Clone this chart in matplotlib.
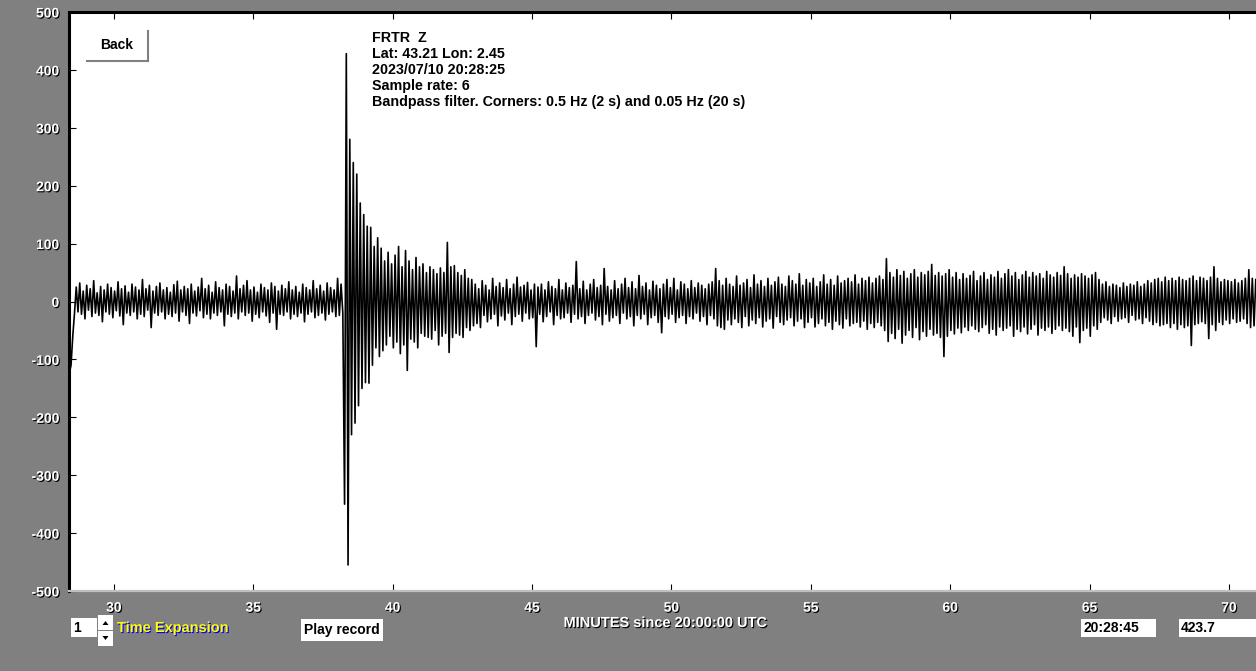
import numpy as np
import matplotlib.pyplot as plt
import matplotlib.patheffects as pe
from matplotlib.patches import Rectangle, Polygon

plt.rcParams['axes.unicode_minus'] = False

# trace: alternating peak values (counts), one every 0.0625 min
t_start = 28.4
t_step = 0.0625
counts = [
    # pre-event noise
    -125, -110, -60, -20,
    25, -18, 32, -22, 18, -30, 28, -15, 22, -26, 36, -20, 15, -24, 26, -35, 20, -18, 30, -22,
    24, -28, 18, -16, 34, -25, 22, -40, 27, -20, 16, -24, 30, -18, 25, -30, 20, -22, 38, -26,
    22, -15, 28, -45, 18, -20, 26, -24, 32, -18, 20, -30, 24, -22, 16, -26, 29, -20, 35, -34,
    20, -18, 26, -24, 22, -38, 30, -20, 18, -25, 25, -16, 40, -28, 22, -22, 28, -30, 16, -20,
    34, -24, 24, -18, 20, -42, 30, -22, 26, -26, 18, -20, 44, -30, 22, -18, 28, -24, 36, -20,
    20, -34, 25, -22, 16, -28, 30, -18, 24, -25, 20, -36, 32, -20, 26, -48, 18, -22, 28, -24,
    22, -18, 34, -30, 20, -22, 26, -26, 16, -20, 30, -35, 24, -22, 20, -18, 36, -28, 22, -24,
    28, -20, 18, -32, 32, -22, 24, -18, 20, -26, 40, -24, 30, -20,
    # event
    -350, 428, -455, 280, -230, 240, -210, 220, -180, 170, -150, 150, -140, 130,
    -141, 128, -110, 95, -80, 110, -95, 92, -85, 70, -75, 85, -60, 65, -80, 80,
    -70, 95, -90, 60, -75, 88, -119, 70, -65, 55, -70, 76, -80, 60, -55, 65,
    -60, 50, -62, 60, -65, 55, -50, 48, -75, 58, -60, 50, -55, 102, -88, 60,
    -62, 62, -55, 50, -58, 45, -62, 55, -45, 40, -50, 38, -42,
    # coda
    30, -38, 22, -45, 36, -24, 28, -35, 20, -30, 40, -22, 26, -42, 32, -25, 24, -32,
    38, -20, 22, -40, 30, -26, 42, -22, 25, -34, 28, -20, 33, -30, 20, -28, 30, -78, 25,
    -22, 30, -35, 20, -26, 34, -18, 26, -40, 22, -24, 38, -30, 20, -28, 32, -20, 24,
    -36, 28, -22, 69, -30, 22, -26, 35, -38, 20, -24, 30, -20, 38, -32, 24, -26, 28,
    -40, 57, -22, 26, -34, 20, -28, 36, -24, 22, -38, 30, -20, 40, -30, 24, -26, 34,
    -42, 22, -24, 45, -30, 26, -22, 32, -40, 20, -28, 35, -24, 28, -36, 22, -54, 30,
    -26, 38, -30, 24, -22, 40, -36, 20, -28, 34, -24, 30, -38, 22, -26, 36, -30, 24,
    -20, 32, -34, 28, -26, 22, -40, 30, -24, 34, -30, 57, -42, 36, -45, 28, -48, 40,
    -32, 30,
    # background 53-60 min
    -40, 26, -30, 44, -36, 28, -45, 32, -26, 38, -42, 24, -32, 46, -38, 30, -28, 36,
    -44, 26, -34, 40, -30, 28, -46, 34, -26, 42, -36, 30, -40, 26, -32, 44, -28, 36,
    -42, 30, -34, 48, -30, 28, -45, 38, -36, 32, -28, 40, -44, 26, -38, 34, -30, 46,
    -42, 30, -36, 38, -48, 28, -34, 44, -40, 32, -46, 36, -30, 40, -42, 34, -38, 46,
    -36, 30, -44, 40, -34, 36, -48, 42, -38, 32, -45, 40, -36, 44,
    -42, 38, -50, 74, -69, 50, -55, 42, -64, 55, -48, 45, -72, 52, -58, 40, -50, 48,
    -62, 55, -45, 42, -66, 50, -52, 46, -60, 52, -48, 64, -58, 45, -55, 50, -62, 44,
    -95, 48, -60, 55, -50, 42, -56, 50, -46, 38, -54, 48, -44, 40, -50, 45, -42, 52,
    -48, 36,
    # 60-65 min
    -52, 44, -45, 50, -40, 38, -55, 46, -48, 42, -58, 52, -44, 40, -50, 48, -46, 55,
    -42, 44, -60, 50, -48, 38, -52, 46, -44, 52, -56, 42, -48, 50, -40, 44, -58, 48,
    -46, 40, -50, 52, -44, 46, -55, 42, -48, 50, -42, 45, -50, 60, -46, 48, -52, 40,
    -60, 46, -44, 42, -71, 48, -50, 44, -46, 40, -60, 46, -42, 50, -48, 38,
    # 65-71 min
    -36, 30, -28, 34, -32, 26, -38, 30, -26, 28, -34, 24, -30, 32, -28, 26, -36, 30,
    -24, 28, -32, 34, -30, 26, -38, 30, -28, 36, -34, 32, -40, 38, -36, 40, -42, 34,
    -40, 42, -38, 36,
    -45, 40, -38, 36, -48, 42, -40, 38, -45, 36, -42, 40, -76, 44, -40, 36, -38, 42,
    -35, 40, -38, 36, -64, 42, -40, 60, -50, 40, -36, 34, -40, 38, -32, 36, -38, 34,
    -30, 38, -36, 32, -34, 36, -30, 40, -38, 55, -45, 40, -42, 38,
]
t = t_start + t_step * np.arange(len(counts))

x_ticks = [30, 35, 40, 45, 50, 55, 60, 65, 70]
y_ticks = [-500, -400, -300, -200, -100, 0, 100, 200, 300, 400, 500]

info_lines = [
    "FRTR  Z",
    "Lat: 43.21 Lon: 2.45",
    "2023/07/10 20:28:25",
    "Sample rate: 6",
    "Bandpass filter. Corners: 0.5 Hz (2 s) and 0.05 Hz (20 s)",
]

W, H = 1256, 671
fig = plt.figure(figsize=(W / 100, H / 100), dpi=100, facecolor="#808080")

ax = fig.add_axes([69 / W, 80 / H, 1187 / W, 579 / H])
ax.plot(t, counts, color="black", lw=1.2)
ax.set_xlim(28.39, 70.97)
ax.set_ylim(-500, 500)
ax.set_xticks(x_ticks)
ax.set_yticks(y_ticks)

ax.spines["right"].set_visible(False)
ax.spines["left"].set_linewidth(2.2)
ax.spines["top"].set_linewidth(2.2)
ax.spines["bottom"].set_color("#c0c0c0")
ax.spines["bottom"].set_linewidth(1.6)

ax.tick_params(axis="y", direction="in", length=5, width=0.8, color="black",
               labelcolor="white", pad=7)
ax.tick_params(axis="x", direction="in", length=5, width=0.8, color="black",
               labelcolor="white", pad=7, top=True)

shadow = [pe.withSimplePatchShadow(offset=(0.8, -0.8), shadow_rgbFace="black", alpha=1)]
for lab in ax.get_xticklabels() + ax.get_yticklabels():
    lab.set_fontfamily("Liberation Sans")
    lab.set_fontweight("bold")
    lab.set_fontsize(10)
    lab.set_path_effects(shadow)

# overlay in pixel coordinates for the screen widgets
ov = fig.add_axes([0, 0, 1, 1])
ov.set_xlim(0, W)
ov.set_ylim(H, 0)
ov.axis("off")
ov.patch.set_alpha(0)

for i, line in enumerate(info_lines):
    ov.text(372, 38 + i * 16, line, fontsize=10.3, fontfamily="Liberation Sans",
            fontweight="bold", va="center", ha="left", color="black")

# Back button
ov.add_patch(Rectangle((86, 30), 62, 31, fc="white", ec="none"))
ov.plot([87, 148], [61, 61], color="#808080", lw=1.5)
ov.plot([148, 148], [31, 61], color="#808080", lw=1.5)
ov.text(117, 45, "Back", fontsize=10, fontfamily="Liberation Sans",
        fontweight="bold", ha="center", va="center")

# time expansion box + spinner
ov.add_patch(Rectangle((71, 618), 26, 19, fc="white", ec="none"))
ov.text(73, 628, "1", fontsize=10, fontfamily="Liberation Sans",
        fontweight="bold", ha="left", va="center")
ov.add_patch(Rectangle((98, 615), 15, 15, fc="white", ec="none"))
ov.add_patch(Rectangle((98, 631), 15, 15, fc="white", ec="none"))
ov.add_patch(Polygon([[102.5, 625], [108.5, 625], [105.5, 621]], fc="black"))
ov.add_patch(Polygon([[102.5, 636], [108.5, 636], [105.5, 640]], fc="black"))
ov.text(117, 628, "Time Expansion", fontsize=10.5, fontfamily="Liberation Sans",
        fontweight="bold", color="#ffff00", ha="left", va="center",
        path_effects=[pe.withSimplePatchShadow(offset=(0.8, -0.8),
                                               shadow_rgbFace="#0000ff", alpha=1)])

# play record button
ov.add_patch(Rectangle((301, 619), 82, 22, fc="white", ec="none"))
ov.text(342, 630, "Play record", fontsize=10, fontfamily="Liberation Sans",
        fontweight="bold", ha="center", va="center")

ov.text(666, 623, "MINUTES since 20:00:00 UTC", fontsize=10.5,
        fontfamily="Liberation Sans", fontweight="bold", color="white",
        ha="center", va="center", path_effects=shadow)

# readout boxes
ov.add_patch(Rectangle((1081, 619), 75, 18, fc="white", ec="none"))
ov.text(1083, 628, "20:28:45", fontsize=10, fontfamily="Liberation Sans",
        fontweight="bold", ha="left", va="center")
ov.add_patch(Rectangle((1179, 619), 80, 18, fc="white", ec="none"))
ov.text(1181, 628, "423.7", fontsize=10, fontfamily="Liberation Sans",
        fontweight="bold", ha="left", va="center")

fig.savefig("out.png", dpi=100, facecolor=fig.get_facecolor())
